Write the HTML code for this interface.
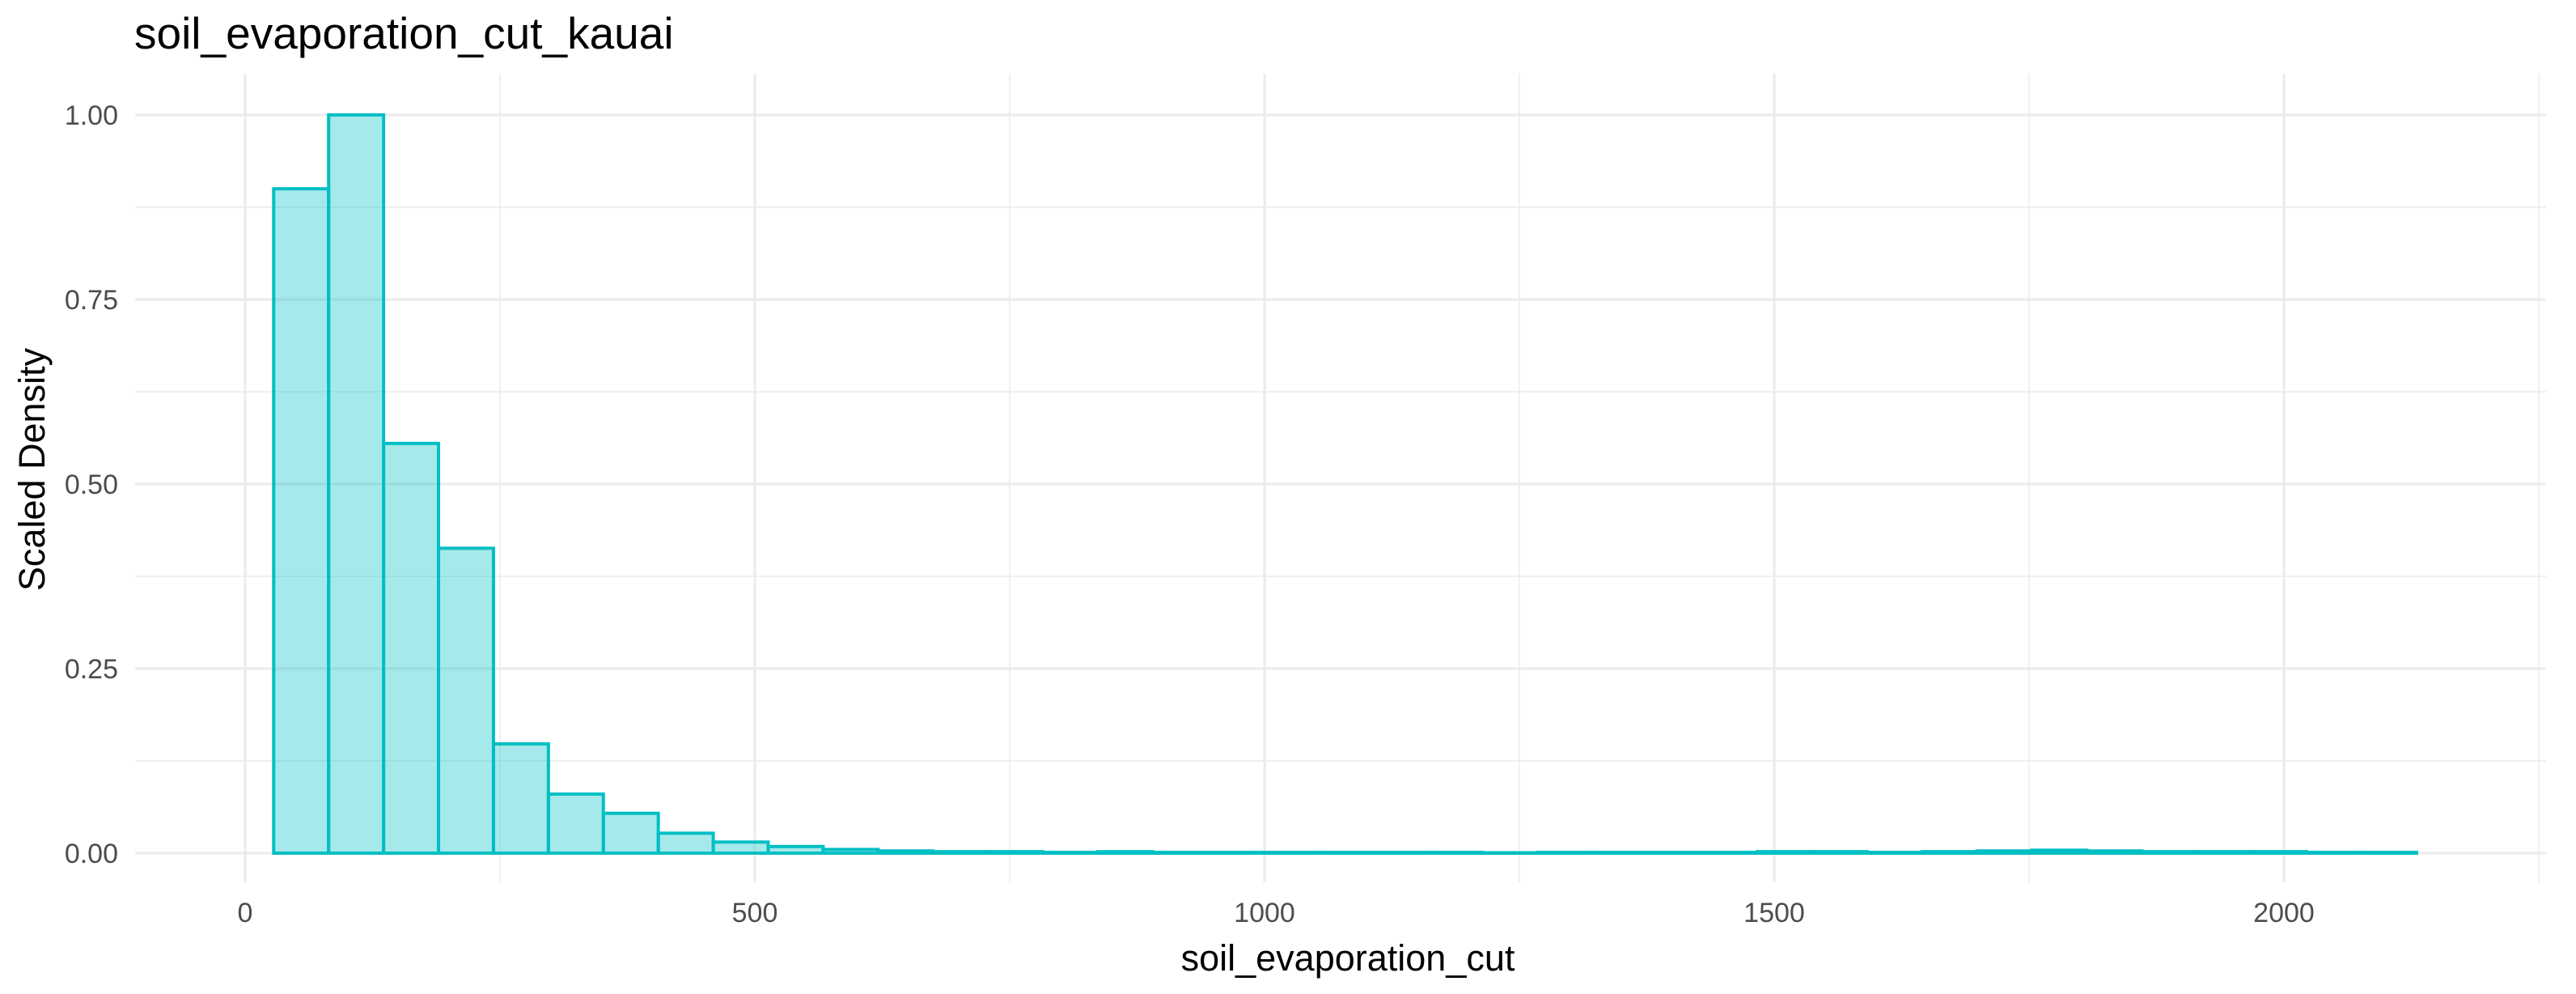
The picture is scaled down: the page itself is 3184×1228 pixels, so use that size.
<!DOCTYPE html>
<html><head><meta charset="utf-8"><style>
html,body{margin:0;padding:0;background:#fff;}
svg{display:block;font-family:"Liberation Sans",Arial,sans-serif;}
</style></head><body>
<svg id="chart" width="3184" height="1228" viewBox="0 0 3184 1228">
<text x="166" y="60" font-size="55" fill="#000">soil_evaporation_cut_kauai</text>
<g id="grid"></g>
<g id="bars"></g>
<g id="axes"></g>
<text x="1666" y="1199" font-size="45" text-anchor="middle" fill="#000">soil_evaporation_cut</text>
<text transform="translate(55,580) rotate(-90)" font-size="45" text-anchor="middle" fill="#000">Scaled Density</text>
</svg>
<script>
const binStart = 28;
const binWidth = 53.9;
const heights = [0.90,1.0,0.555,0.413,0.148,0.08,0.054,0.027,0.015,0.009,0.005,
0.003,0.002,0.002,0.001,0.002,0.001,0.001,0.001,0.001,0.001,0.001,0.0005,0.001,0.001,0.001,0.001,0.002,0.002,0.001,0.002,0.003,0.004,0.003,0.002,0.002,0.002,0.001,0.001];
const xTicks = [0,500,1000,1500,2000];
const xMinor = [250,750,1250,1750,2250];
const yTicks = [0,0.25,0.5,0.75,1.0];
const yTickLabels = ["0.00","0.25","0.50","0.75","1.00"];
const yMinor = [0.125,0.375,0.625,0.875];

const X = v => 303 + v*1.26;
const Y = v => 1054 - v*912;
const NS = "http://www.w3.org/2000/svg";
function mk(tag, attrs, parent){const e=document.createElementNS(NS,tag);for(const k in attrs)e.setAttribute(k,attrs[k]);parent.appendChild(e);return e;}
const grid=document.getElementById('grid'), bars=document.getElementById('bars'), axes=document.getElementById('axes');
const L=167, R=3147, T=91, B=1090;
yMinor.forEach(v=>{const l=mk('line',{x1:L,x2:R,y1:Y(v),y2:Y(v),stroke:'#ebebeb','stroke-width':1.5},grid);

});
xMinor.forEach(v=>{const l=mk('line',{x1:X(v),x2:X(v),y1:T,y2:B,stroke:'#ebebeb','stroke-width':1.5},grid);

});
yTicks.forEach((v,i)=>{const l=mk('line',{x1:L,x2:R,y1:Y(v),y2:Y(v),stroke:'#ebebeb','stroke-width':3},grid);


const t=mk('text',{x:146,y:Y(v)+12,'font-size':34,'text-anchor':'end',fill:'#4d4d4d'},axes);t.textContent=yTickLabels[i];

});
xTicks.forEach(v=>{const l=mk('line',{x1:X(v),x2:X(v),y1:T,y2:B,stroke:'#ebebeb','stroke-width':3},grid);


const t=mk('text',{x:X(v),y:1139,'font-size':34,'text-anchor':'middle',fill:'#4d4d4d'},axes);t.textContent=String(v);

});
heights.forEach((h,i)=>{const x0=X(binStart+i*binWidth), x1=X(binStart+(i+1)*binWidth);
const r=mk('rect',{x:x0,y:Y(h),width:x1-x0,height:Y(0)-Y(h),fill:'rgba(0,191,196,0.35)',stroke:'#00BFC4','stroke-width':4},bars);

});
</script>
</body></html>
